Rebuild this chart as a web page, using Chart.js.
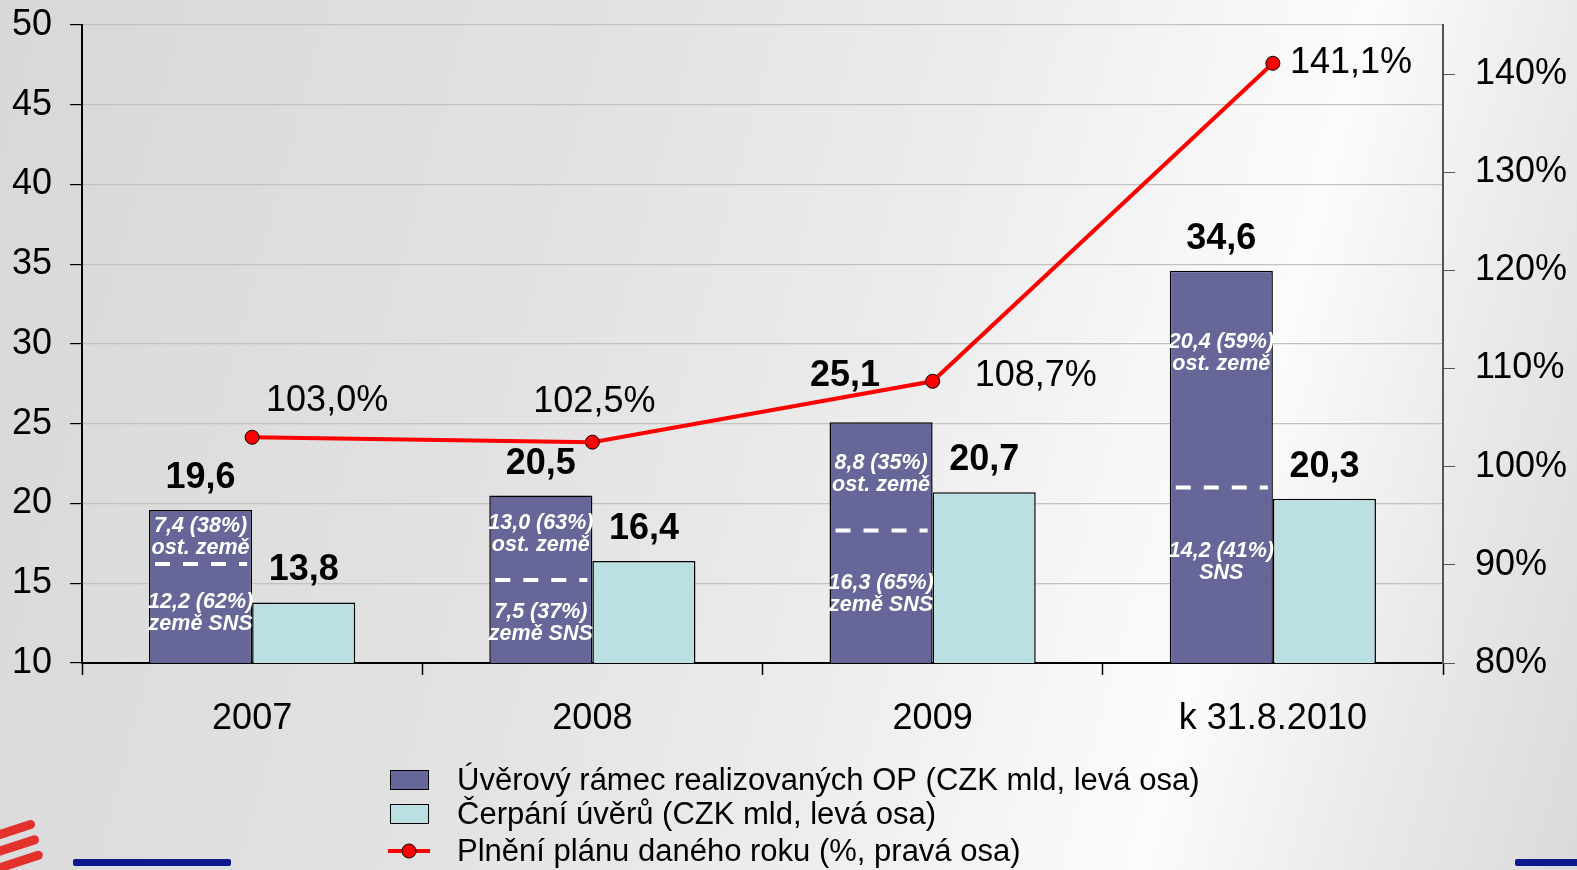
<!DOCTYPE html>
<html lang="cs">
<head>
<meta charset="utf-8">
<script src="https://cdn.jsdelivr.net/npm/chart.js@4.4.1/dist/chart.umd.min.js"></script>
<style>
  html, body { margin: 0; padding: 0; }
  body {
    width: 1577px; height: 870px; overflow: hidden; position: relative;
    background: linear-gradient(105deg, #d8d8d8 0%, #e2e2e2 35%, #ececec 55%, #f6f6f6 68%, #fbfbfb 76%, #e9e9e9 88%, #dadada 100%);
  }
  #wrap { position: absolute; left: 0; top: 0; width: 1577px; height: 870px; }
  .rule { position: absolute; height: 7px; background: #0c1790; border-radius: 2px; }
  .stripe { position: absolute; height: 9px; background: #e3312b; border-radius: 5px; transform: rotate(-18deg); }
</style>
</head>
<body>
<div class="stripe" style="left:-12px;top:826px;width:48px"></div>
<div class="stripe" style="left:-12px;top:842px;width:52px"></div>
<div class="stripe" style="left:-12px;top:858px;width:56px"></div>
<div class="rule" style="left:73px;top:859px;width:158px"></div>
<div class="rule" style="left:1515px;top:859px;width:70px"></div>
<div id="wrap"><canvas id="c" width="1577" height="870"></canvas></div>
<script>
// Kategorie a řady
const categories = ['2007', '2008', '2009', 'k 31.8.2010'];
const uverovyRamec = [19.6, 20.5, 25.1, 34.6];     // CZK mld, levá osa
const cerpaniUveru = [13.8, 16.4, 20.7, 20.3];     // CZK mld, levá osa
const plneniPlanu = [103.0, 102.5, 108.7, 141.1];  // %, pravá osa

// rozpad úvěrového rámce (popisky uvnitř tmavých sloupců)
const ostZemeShare = ['7,4 (38%)', '13,0 (63%)', '8,8 (35%)', '20,4 (59%)'];
const ostZemeName = ['ost. země', 'ost. země', 'ost. země', 'ost. země'];
const snsShare = ['12,2 (62%)', '7,5 (37%)', '16,3 (65%)', '14,2 (41%)'];
const snsName = ['země SNS', 'země SNS', 'země SNS', 'SNS'];
const splitLevel = [16.2, 15.2, 18.3, 21.0];       // přerušovaná čára, hodnota levé osy
const ostLabelAt = [17.9, 18.1, 21.85, 29.4];
const snsLabelAt = [13.1, 12.5, 14.3, 16.3];

const leftTicks = [10, 15, 20, 25, 30, 35, 40, 45, 50];
const rightTicks = [80, 90, 100, 110, 120, 130, 140];

const legendLabels = [
  'Úvěrový rámec realizovaných OP (CZK mld, levá osa)',
  'Čerpání úvěrů (CZK mld, levá osa)',
  'Plnění plánu daného roku (%, pravá osa)',
];

const DARK = '#666699', LIGHT = '#bbe0e3', RED = '#ff0000';
const FONT = '"Liberation Sans", Arial, sans-serif';
const fmt = v => v.toFixed(1).replace('.', ',');

// umístění popisků čáry vůči bodu: [dx, dy, zarovnání]
const lineLabelPlace = [[75, -36, 'center'], [2, -40, 'center'], [42, -5, 'left'], [17, 0, 'left']];
const barLabelNudge = [[0, 0], [0, 0], [-36, -14], [0, 0]];

const notes = {
  id: 'notes',
  afterDatasetsDraw(chart) {
    const ctx = chart.ctx, y = chart.scales.y;
    const mDark = chart.getDatasetMeta(0), mLight = chart.getDatasetMeta(1), mLine = chart.getDatasetMeta(2);
    ctx.save();
    mDark.data.forEach((bar, i) => {
      const left = bar.x - bar.width / 2, right = bar.x + bar.width / 2;
      const ys = y.getPixelForValue(splitLevel[i]);
      ctx.strokeStyle = '#fff'; ctx.lineWidth = 4; ctx.setLineDash([15, 13]);
      ctx.beginPath(); ctx.moveTo(left + 6, ys); ctx.lineTo(right - 5, ys); ctx.stroke();
      ctx.setLineDash([]);
      ctx.fillStyle = '#fff';
      ctx.font = 'italic bold 21.5px ' + FONT;
      ctx.textAlign = 'center'; ctx.textBaseline = 'middle';
      const yo = y.getPixelForValue(ostLabelAt[i]), yp = y.getPixelForValue(snsLabelAt[i]);
      ctx.fillText(ostZemeShare[i], bar.x, yo - 11);
      ctx.fillText(ostZemeName[i], bar.x, yo + 11);
      ctx.fillText(snsShare[i], bar.x, yp - 11);
      ctx.fillText(snsName[i], bar.x, yp + 11);
    });
    // hodnoty nad sloupci
    ctx.fillStyle = '#000';
    ctx.font = 'bold 36px ' + FONT;
    ctx.textAlign = 'center'; ctx.textBaseline = 'alphabetic';
    mDark.data.forEach((bar, i) => {
      ctx.fillText(fmt(uverovyRamec[i]), bar.x + barLabelNudge[i][0], bar.y - 22 + barLabelNudge[i][1]);
    });
    mLight.data.forEach((bar, i) => ctx.fillText(fmt(cerpaniUveru[i]), bar.x, bar.y - 22));
    // popisky čáry
    ctx.font = '36px ' + FONT;
    ctx.textBaseline = 'middle';
    mLine.data.forEach((pt, i) => {
      const [dx, dy, al] = lineLabelPlace[i];
      ctx.textAlign = al;
      ctx.fillText(fmt(plneniPlanu[i]) + '%', pt.x + dx, pt.y + dy);
    });
    ctx.restore();
  },
  afterDraw(chart) {
    // legenda pod grafem, položky pod sebou
    const ctx = chart.ctx;
    const rows = [780, 814, 851];
    ctx.save();
    ctx.font = '31px ' + FONT;
    ctx.textAlign = 'left'; ctx.textBaseline = 'middle';
    legendLabels.forEach((txt, i) => {
      const cy = rows[i];
      if (i < 2) {
        ctx.fillStyle = i === 0 ? DARK : LIGHT;
        ctx.fillRect(390, cy - 10, 39, 20);
        ctx.strokeStyle = '#000'; ctx.lineWidth = 1;
        ctx.strokeRect(390.5, cy - 9.5, 38, 19);
      } else {
        ctx.strokeStyle = RED; ctx.lineWidth = 4;
        ctx.beginPath(); ctx.moveTo(388, cy); ctx.lineTo(430, cy); ctx.stroke();
        ctx.fillStyle = RED; ctx.strokeStyle = '#000'; ctx.lineWidth = 1;
        ctx.beginPath(); ctx.arc(409, cy, 7, 0, Math.PI * 2); ctx.fill(); ctx.stroke();
      }
      ctx.fillStyle = '#000';
      ctx.fillText(txt, 457, cy + 1);
    });
    ctx.restore();
  },
};

new Chart(document.getElementById('c'), {
  data: {
    labels: categories,
    datasets: [
      { type: 'bar', label: legendLabels[0], data: uverovyRamec, backgroundColor: DARK, borderColor: '#000', borderWidth: 1.5, yAxisID: 'y', order: 1, categoryPercentage: 0.606, barPercentage: 1 },
      { type: 'bar', label: legendLabels[1], data: cerpaniUveru, backgroundColor: LIGHT, borderColor: '#000', borderWidth: 1.5, yAxisID: 'y', order: 2, categoryPercentage: 0.606, barPercentage: 1 },
      { type: 'line', label: legendLabels[2], data: plneniPlanu, borderColor: RED, borderWidth: 4, pointRadius: 7, pointBackgroundColor: RED, pointBorderColor: '#000', pointBorderWidth: 1, yAxisID: 'y2', order: 0, tension: 0 },
    ],
  },
  options: {
    responsive: false, animation: false,
    layout: { padding: { top: 25, left: 0, right: 0, bottom: 0 } },
    plugins: { legend: { display: false }, tooltip: { enabled: false } },
    scales: {
      x: {
        offset: true,
        grid: { drawOnChartArea: false, offset: true, tickLength: 12, tickColor: '#000', tickWidth: 1.5 },
        border: { color: '#000', width: 2 },
        ticks: { color: '#000', font: { family: FONT, size: 36 }, padding: 22 },
        afterFit: s => { s.height = 207; },
      },
      y: {
        position: 'left', min: 10, max: 50,
        afterBuildTicks: s => { s.ticks = leftTicks.map(v => ({ value: v })); },
        grid: { color: '#c2c2c2', lineWidth: 1.2, tickLength: 12, tickColor: '#000' },
        border: { color: '#000', width: 2 },
        ticks: { color: '#000', font: { family: FONT, size: 36 }, padding: 18 },
        afterFit: s => { s.width = 82; s.paddingTop = 0; s.paddingBottom = 0; },
      },
      y2: {
        position: 'right', min: 80, max: 145,
        afterBuildTicks: s => { s.ticks = rightTicks.map(v => ({ value: v })); },
        grid: { drawOnChartArea: false, tickLength: 12, tickColor: '#555' },
        border: { color: '#555', width: 2 },
        ticks: { color: '#000', font: { family: FONT, size: 36 }, padding: 20, callback: v => v + '%' },
        afterFit: s => { s.width = 134; s.paddingTop = 0; s.paddingBottom = 0; },
      },
    },
  },
  plugins: [notes],
});
</script>
</body>
</html>
